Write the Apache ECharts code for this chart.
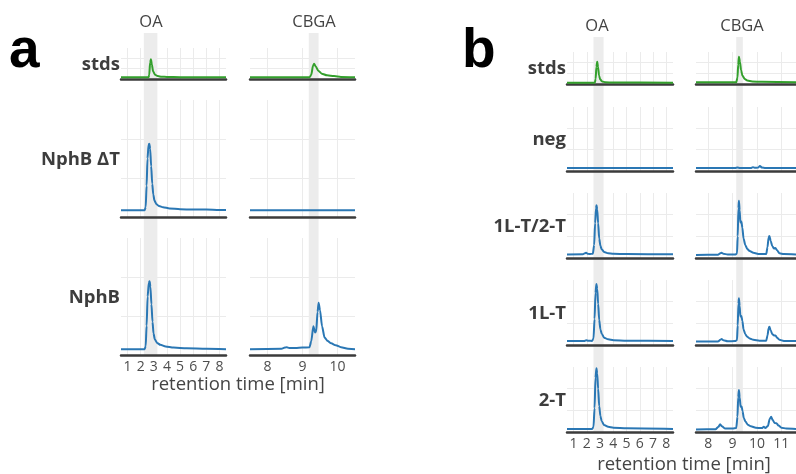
<!DOCTYPE html>
<html>
<head>
<meta charset="utf-8">
<script src="https://cdn.jsdelivr.net/npm/echarts@6/dist/echarts.min.js"></script>
<style>
  html, body { margin: 0; padding: 0; background: #fff; }
  #main { width: 796px; height: 474px; }
</style>
</head>
<body>
<div id="main"></div>
<script>
// facet names
var columns = ['OA', 'CBGA'];
var rowsA = ['stds', 'NphB ΔT', 'NphB'];
var rowsB = ['stds', 'neg', '1L-T/2-T', '1L-T', '2-T'];

// x tick labels (retention time, min)
var ticksOA = [1, 2, 3, 4, 5, 6, 7, 8];
var ticksCbgaA = [8, 9, 10];
var ticksCbgaB = [8, 9, 10, 11];

// shaded retention windows [from, to]
var bandOA_a = [2.24, 3.27];
var bandCBGA_a = [9.18, 9.46];
var bandOA_b = [2.5, 3.26];
var bandCBGA_b = [9.15, 9.42];

// ---- panel a traces [time, intensity] ----
var aStdsOA = [[0.5,4],[2.6,4],[2.65,10],[2.72,40],[2.78,48],[2.85,35],[2.95,18],[3.1,10],[3.3,7],[3.6,5.5],[4,5],[5,4.5],[8.5,4]];
var aStdsCBGA = [[7.5,4],[9.2,4],[9.25,10],[9.3,32],[9.33,37],[9.38,30],[9.45,20],[9.55,13],[9.7,9],[9.9,7],[10.1,5],[10.5,4]];
var aDeltaOA = [[0.5,17],[2.3,17],[2.38,25],[2.45,80],[2.52,150],[2.6,185],[2.66,188],[2.72,175],[2.8,130],[2.88,85],[2.96,58],[3.05,42],[3.2,33],[3.4,28],[3.7,25],[4.2,22],[5,20],[6,19],[6.5,19.5],[7,19],[8,18],[8.5,18]];
var aDeltaCBGA = [[7.5,17],[8.5,17],[9.5,17],[10.5,17]];
var aNphbOA = [[0.5,15],[2.3,15],[2.38,22],[2.45,75],[2.53,150],[2.62,185],[2.68,189],[2.74,175],[2.82,130],[2.9,85],[2.98,55],[3.08,40],[3.25,31],[3.5,26],[3.9,22],[4.5,19],[5.5,17],[7,16],[8.5,15]];
var aNphbCBGA = [[7.5,15],[8.4,16],[8.5,19],[8.55,20],[8.62,18],[8.8,18],[9.0,19],[9.2,20],[9.25,35],[9.31,74],[9.36,58],[9.39,60],[9.43,110],[9.46,134],[9.5,115],[9.56,73],[9.63,45],[9.72,36],[9.82,30],[9.95,25],[10.1,20],[10.3,16],[10.5,15]];

// ---- panel b traces ----
var bStdsOA = [[0.5,3],[2.6,3],[2.66,12],[2.72,40],[2.78,52],[2.84,40],[2.92,20],[3.0,11],[3.15,6],[3.4,4],[4,3.5],[8.5,3]];
var bStdsCBGA = [[7.5,4],[9.15,4],[9.2,15],[9.23,45],[9.26,64],[9.3,52],[9.35,32],[9.4,20],[9.5,12],[9.6,8],[9.8,6],[10.2,5],[11.6,4]];
var bNegOA = [[0.5,7],[4,7],[8.5,7]];
var bNegCBGA = [[7.5,7],[9.1,7],[9.2,8],[9.3,7],[9.75,7],[9.83,9],[9.9,7.5],[10.05,8],[10.12,12],[10.2,8],[10.35,7],[11.6,7]];
var bBothOA = [[0.5,8],[1.7,8.5],[1.85,11],[1.95,12],[2.05,10],[2.2,9],[2.45,10],[2.55,30],[2.62,80],[2.69,115],[2.73,122],[2.78,112],[2.85,80],[2.93,45],[3.02,28],[3.12,20],[3.3,14],[3.6,11],[4,10],[5,9],[8.5,8.5]];
var bBothCBGA = [[7.5,7],[8.4,7.5],[8.5,11],[8.55,12],[8.62,10],[8.8,8],[9.1,8],[9.18,10],[9.21,50],[9.24,115],[9.26,132],[9.29,110],[9.32,82],[9.36,84],[9.4,70],[9.45,45],[9.52,30],[9.6,21],[9.7,16],[9.85,12],[10.1,9],[10.38,9],[10.43,25],[10.48,48],[10.51,51],[10.56,40],[10.63,27],[10.7,22],[10.76,23],[10.82,18],[10.92,11],[11.1,9],[11.6,8]];
var b1LOA = [[0.5,9],[1.8,9],[1.95,11],[2.1,10],[2.4,9.5],[2.5,15],[2.58,60],[2.65,120],[2.72,141],[2.78,130],[2.85,95],[2.93,58],[3.02,36],[3.12,26],[3.3,17],[3.6,13],[4,11],[5,10],[8.5,9]];
var b1LCBGA = [[7.5,8],[8.4,8],[8.5,12],[8.55,14],[8.62,11],[8.8,8.5],[9.1,9],[9.18,11],[9.21,45],[9.24,95],[9.26,108],[9.29,90],[9.32,66],[9.36,67],[9.4,56],[9.45,36],[9.52,25],[9.6,19],[9.7,15],[9.85,12],[10.1,10],[10.38,10],[10.43,22],[10.48,39],[10.51,42],[10.56,34],[10.63,25],[10.7,22],[10.76,22],[10.82,17],[10.92,12],[11.1,9.5],[11.6,9]];
var b2TOA = [[0.5,7],[2.4,7],[2.5,12],[2.58,55],[2.65,125],[2.72,147],[2.78,135],[2.85,100],[2.93,60],[3.02,37],[3.12,25],[3.3,16],[3.6,12],[4,10],[5,8.5],[8.5,7]];
var b2TCBGA = [[7.5,6],[8.3,6.5],[8.42,12],[8.49,18],[8.56,13],[8.7,8],[9.0,8],[9.15,9],[9.2,35],[9.23,80],[9.26,97],[9.29,80],[9.33,58],[9.37,59],[9.41,48],[9.46,32],[9.53,24],[9.62,17],[9.75,13],[9.95,10],[10.2,9],[10.28,12],[10.34,9],[10.45,14],[10.52,30],[10.58,35],[10.64,28],[10.72,21],[10.8,20],[10.88,15],[11.0,10],[11.2,8],[11.6,7]];

var BLUE = '#2a77b4';
var GREEN = '#33a02c';
var FONT = '"Open Sans", "Noto Sans", sans-serif';

var grids = [], xAxes = [], yAxes = [], series = [], graphics = [];

function addPanel(left, width, top, height, xr, ticks, ymax, data, color, bottom) {
  var i = grids.length;
  grids.push({ left: left, top: top, width: width, height: height });
  xAxes.push({
    type: 'value', gridIndex: i, min: xr[0], max: xr[1], z: 1,
    axisLine: { show: true, lineStyle: { color: '#3b3b3b', width: 2.5 } },
    axisTick: { show: false, customValues: ticks },
    splitLine: { show: true, lineStyle: { color: '#ebebeb', width: 1 } },
    axisLabel: { show: bottom, customValues: ticks, margin: 5, color: '#4d4d4d', fontSize: 14, fontFamily: FONT }
  });
  yAxes.push({
    type: 'value', gridIndex: i, min: 0, max: ymax, interval: ymax / 3, z: 1,
    axisLine: { show: false }, axisTick: { show: false }, axisLabel: { show: false },
    splitLine: { show: true, lineStyle: { color: ['rgba(0,0,0,0)', '#ebebeb', '#ebebeb', 'rgba(0,0,0,0)'], width: 1 } }
  });
  series.push({
    type: 'line', xAxisIndex: i, yAxisIndex: i, data: data, symbol: 'none', z: 3,
    smooth: 0.25, smoothMonotone: 'x',
    lineStyle: { color: color, width: 2 }, itemStyle: { color: color }
  });
}

function addBand(left, width, top, height, xr, band) {
  var i = grids.length;
  grids.push({ left: left, top: top, width: width, height: height });
  xAxes.push({ type: 'value', gridIndex: i, min: xr[0], max: xr[1], show: false });
  yAxes.push({ type: 'value', gridIndex: i, min: 0, max: 1, show: false });
  series.push({
    type: 'line', xAxisIndex: i, yAxisIndex: i, data: [], z: 0, silent: true,
    markArea: { silent: true, itemStyle: { color: '#ececec' }, data: [[{ xAxis: band[0] }, { xAxis: band[1] }]] }
  });
}

function label(x, y, text, opts) {
  graphics.push({
    type: 'text', x: x, y: y, silent: true,
    style: Object.assign({ text: text, fontFamily: FONT, fill: '#3d3d3d', textVerticalAlign: 'middle' }, opts)
  });
}

// ---- panel a ----
var xrOA_a = [0.5, 8.5], xrCB_a = [7.5, 10.5];
addBand(121, 105, 33, 322, xrOA_a, bandOA_a);
addBand(250, 105, 33, 322, xrCB_a, bandCBGA_a);
var rowsTopA = [48, 100, 238], rowsHA = [31, 117, 117], ymaxA = [75, 300, 300];
var dataA = [[aStdsOA, aStdsCBGA], [aDeltaOA, aDeltaCBGA], [aNphbOA, aNphbCBGA]];
rowsA.forEach(function (name, r) {
  var col = r === 0 ? GREEN : BLUE;
  var last = r === rowsA.length - 1;
  addPanel(121, 105, rowsTopA[r], rowsHA[r], xrOA_a, ticksOA, ymaxA[r], dataA[r][0], col, last);
  addPanel(250, 105, rowsTopA[r], rowsHA[r], xrCB_a, ticksCbgaA, ymaxA[r], dataA[r][1], col, last);
  label(120, rowsTopA[r] + rowsHA[r] / 2 + 1, name, { textAlign: 'right', fontSize: 18.5, fontWeight: 'bold' });
});

// ---- panel b ----
var xrOA_b = [0.5, 8.5], xrCB_b = [7.5, 11.6];
addBand(567, 106, 37, 395, xrOA_b, bandOA_b);
addBand(696, 106.6, 37, 395, xrCB_b, bandCBGA_b);
var rowsTopB = [52, 107, 193, 280, 367], rowsHB = [32, 64, 65, 65, 65], ymaxB = [75, 150, 150, 150, 150];
var dataB = [[bStdsOA, bStdsCBGA], [bNegOA, bNegCBGA], [bBothOA, bBothCBGA], [b1LOA, b1LCBGA], [b2TOA, b2TCBGA]];
rowsB.forEach(function (name, r) {
  var col = r === 0 ? GREEN : BLUE;
  var last = r === rowsB.length - 1;
  addPanel(567, 106, rowsTopB[r], rowsHB[r], xrOA_b, ticksOA, ymaxB[r], dataB[r][0], col, last);
  addPanel(696, 106.6, rowsTopB[r], rowsHB[r], xrCB_b, ticksCbgaB, ymaxB[r], dataB[r][1], col, last);
  label(566, rowsTopB[r] + rowsHB[r] / 2 + 1, name, { textAlign: 'right', fontSize: 18.5, fontWeight: 'bold' });
});

// column titles above the shaded windows
label(151, 22, columns[0], { textAlign: 'center', fontSize: 16.5, fill: '#444' });
label(314, 22, columns[1], { textAlign: 'center', fontSize: 16.5, fill: '#444' });
label(597, 26, columns[0], { textAlign: 'center', fontSize: 16.5, fill: '#444' });
label(742, 26, columns[1], { textAlign: 'center', fontSize: 16.5, fill: '#444' });

// axis titles
label(238, 385, 'retention time [min]', { textAlign: 'center', fontSize: 18.5, fill: '#444' });
label(684, 465, 'retention time [min]', { textAlign: 'center', fontSize: 18.5, fill: '#444' });

// panel letters
label(9, 52, 'a', { textAlign: 'left', fontSize: 55, fontWeight: 'bold', fill: '#000', fontFamily: '"Liberation Sans", Arial, sans-serif' });
label(462, 52, 'b', { textAlign: 'left', fontSize: 55, fontWeight: 'bold', fill: '#000', fontFamily: '"Liberation Sans", Arial, sans-serif' });

var myChart = echarts.init(document.getElementById('main'), null, { renderer: 'canvas' });
myChart.setOption({
  animation: false,
  grid: grids,
  xAxis: xAxes,
  yAxis: yAxes,
  series: series,
  graphic: graphics
});
</script>
</body>
</html>
